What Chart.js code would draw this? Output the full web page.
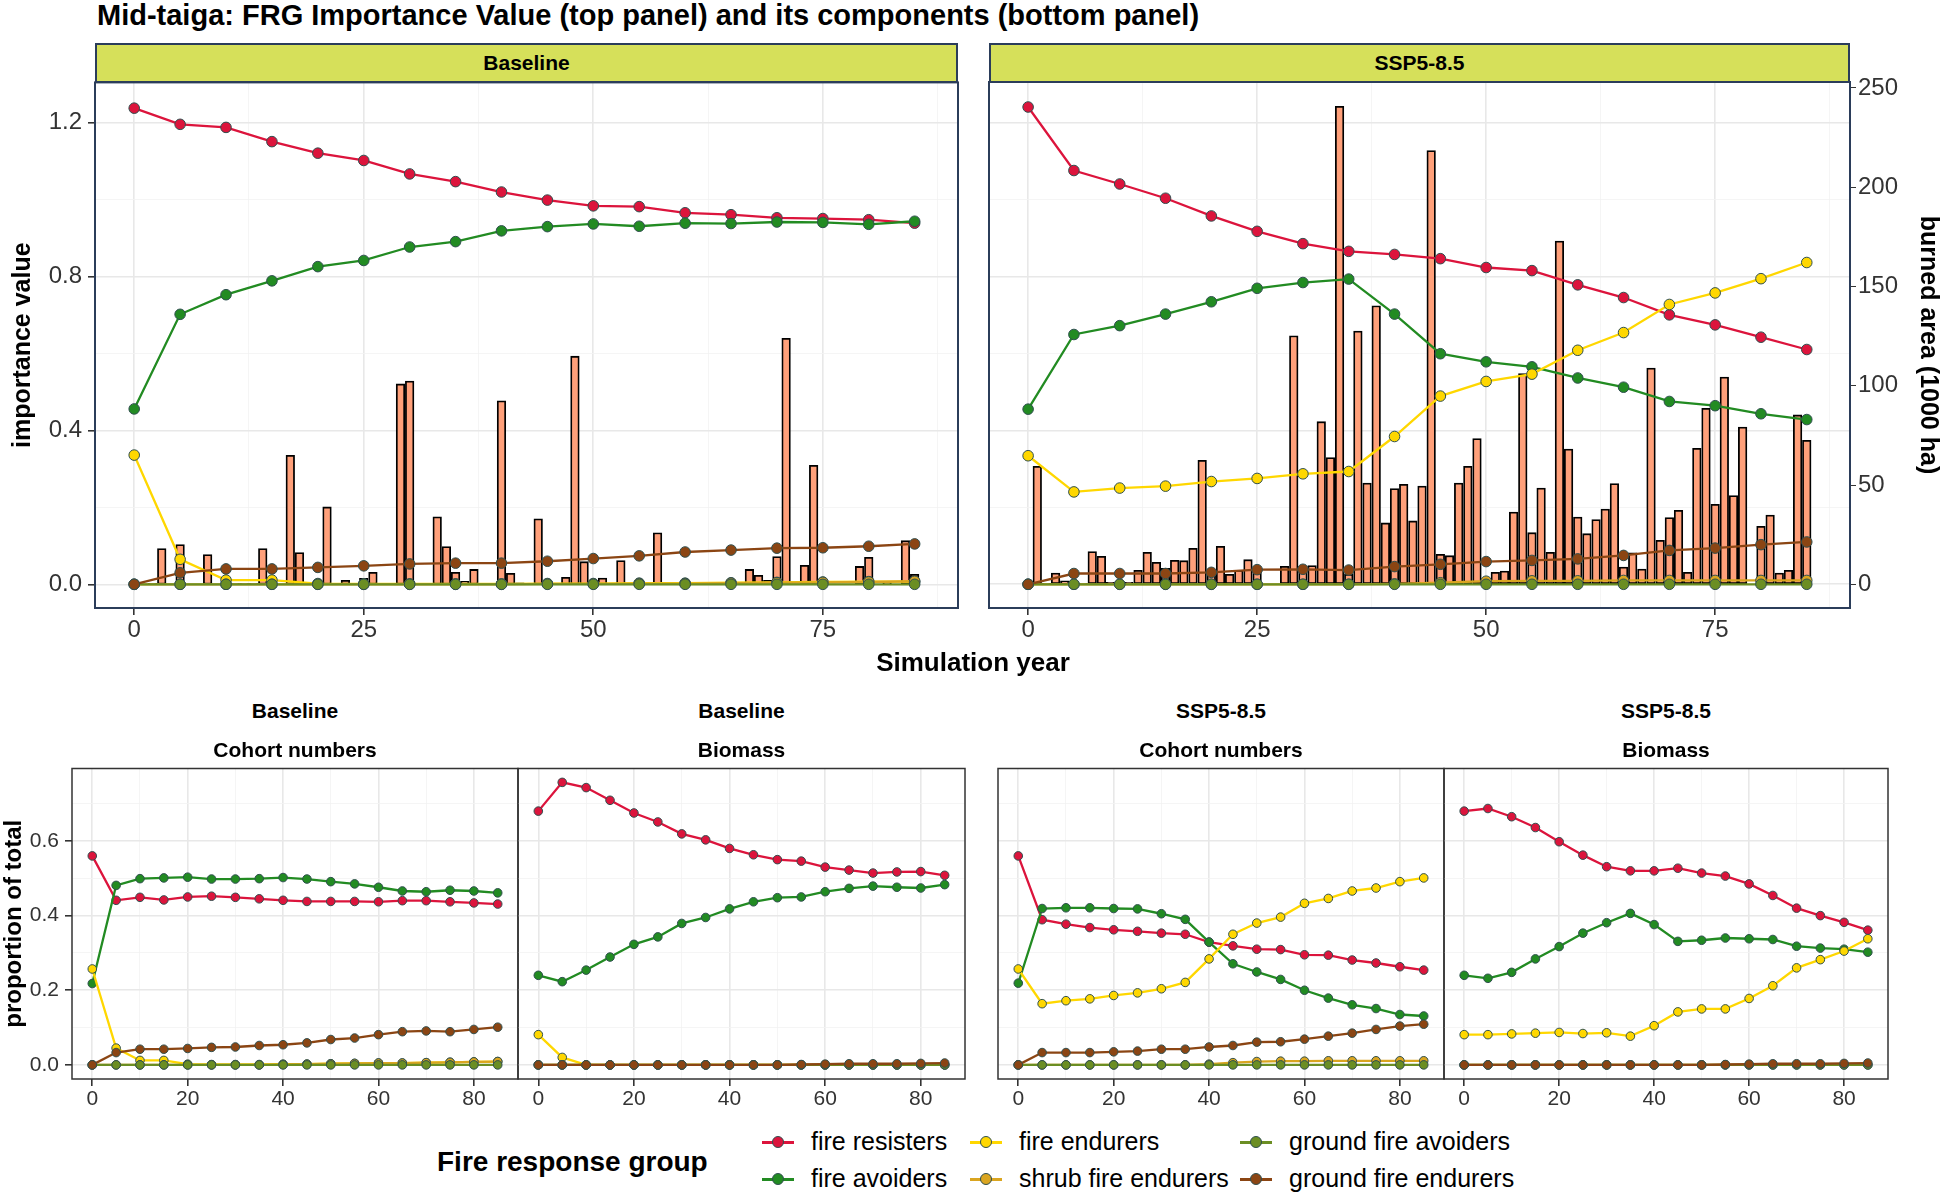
<!DOCTYPE html>
<html>
<head>
<meta charset="utf-8">
<script src="https://cdn.jsdelivr.net/npm/chart.js@4.4.1/dist/chart.umd.min.js"></script>
<style>
  body { margin: 0; background: #fff; font-family: "Liberation Sans", Arial, sans-serif; }
  #page { position: relative; width: 1944px; height: 1195px; overflow: hidden; }
  canvas { position: absolute; }
  .txt { position: absolute; white-space: nowrap; color: #000; }
  .strip { position: absolute; box-sizing: border-box; background: #d6e05a; border: 2px solid #2b3d5a;
           font-weight: bold; font-size: 21px; display: flex; align-items: center; justify-content: center; }
  .sub { position: absolute; text-align: center; font-weight: bold; font-size: 21px; line-height: 26px; }
  .key { position: absolute; width: 32px; height: 20px; }
  .key .ln { position: absolute; left: 0; right: 0; top: 8.5px; height: 3px; }
  .key .pt { position: absolute; left: 10px; top: 4px; width: 10px; height: 10px; border-radius: 50%; border: 1px solid #2f4f4f; }
  .lab { position: absolute; font-size: 25px; line-height: 28px; }
</style>
</head>
<body>
<div id="page">
  <canvas id="topBase" width="980" height="600" style="left:0;top:62px"></canvas>
  <canvas id="topSsp" width="984" height="600" style="left:960px;top:62px"></canvas>
  <canvas id="cohBase" width="538" height="370" style="left:0;top:748px"></canvas>
  <canvas id="bioBase" width="487" height="370" style="left:498px;top:748px"></canvas>
  <canvas id="cohSsp" width="486" height="370" style="left:978px;top:748px"></canvas>
  <canvas id="bioSsp" width="484" height="370" style="left:1424px;top:748px"></canvas>

  <div class="txt" style="left:97px;top:0;font-size:29px;font-weight:bold;line-height:30px">Mid-taiga: FRG Importance Value (top panel) and its components (bottom panel)</div>
  <div class="strip" style="left:95px;top:43px;width:863px;height:40px">Baseline</div>
  <div class="strip" style="left:989px;top:43px;width:861px;height:40px">SSP5-8.5</div>
  <div class="txt" style="left:773px;width:400px;text-align:center;top:647px;font-size:26px;font-weight:bold;line-height:30px">Simulation year</div>

  <div class="sub" style="left:72px;width:446px;top:698px">Baseline</div>
  <div class="sub" style="left:72px;width:446px;top:737px">Cohort numbers</div>
  <div class="sub" style="left:518px;width:447px;top:698px">Baseline</div>
  <div class="sub" style="left:518px;width:447px;top:737px">Biomass</div>
  <div class="sub" style="left:998px;width:446px;top:698px">SSP5-8.5</div>
  <div class="sub" style="left:998px;width:446px;top:737px">Cohort numbers</div>
  <div class="sub" style="left:1444px;width:444px;top:698px">SSP5-8.5</div>
  <div class="sub" style="left:1444px;width:444px;top:737px">Biomass</div>

  <div class="txt" style="left:437px;top:1145px;font-size:28px;font-weight:bold;line-height:34px">Fire response group</div>
  <div id="legend"></div>
</div>

<script>
// simulation years with FRG values (every 5 years)
const steps = [0, 5, 10, 15, 20, 25, 30, 35, 40, 45, 50, 55, 60, 65, 70, 75, 80, 85];
// years with annual burned area bars
const fireYears = [1, 2, 3, 4, 5, 6, 7, 8, 9, 10, 11, 12, 13, 14, 15, 16, 17, 18, 19, 20,
  21, 22, 23, 24, 25, 26, 27, 28, 29, 30, 31, 32, 33, 34, 35, 36, 37, 38, 39, 40,
  41, 42, 43, 44, 45, 46, 47, 48, 49, 50, 51, 52, 53, 54, 55, 56, 57, 58, 59, 60,
  61, 62, 63, 64, 65, 66, 67, 68, 69, 70, 71, 72, 73, 74, 75, 76, 77, 78, 79, 80,
  81, 82, 83, 84, 85];

const groups = ['fire resisters', 'fire avoiders', 'fire endurers',
  'shrub fire endurers', 'ground fire avoiders', 'ground fire endurers'];
const groupColors = ['#DC143C', '#228B22', '#FFD700', '#DAA520', '#6B8E23', '#8B4513'];

// burned area (1000 ha)
const burnedBaseline = [0, 0.5, 18, 0, 20, 0, 0, 15, 0, 0,
  0.5, 0.5, 0.5, 18, 3, 0, 65, 16, 0, 0,
  39, 0, 2, 0, 3, 6, 0.5, 0.5, 101, 102.5,
  0, 0, 34, 19, 6, 1.5, 7.5, 0, 0, 92.5,
  5.5, 0.8, 0, 33, 0, 0, 3.5, 115, 11.4, 0,
  3.2, 0, 12, 0, 0, 0, 26, 0, 0, 0,
  0, 0, 0, 0.8, 0, 0, 7.5, 4.5, 2, 14,
  124, 0, 9.6, 60, 0, 0, 0, 0, 9, 13.6,
  0, 1, 0, 22, 5];
const burnedSsp = [59.4, 0.5, 5.7, 1.7, 0.5, 0.5, 16.5, 14.1, 1, 1,
  1, 7, 16.1, 11.1, 8, 12.1, 11.9, 18.1, 62.4, 6,
  19.1, 5, 7, 12.4, 8, 0, 0, 9.1, 125.2, 8,
  9.4, 81.9, 63.8, 240.7, 5, 127.5, 51, 140.3, 30.9, 48.2,
  50.4, 31.9, 49.5, 218.5, 15.1, 14.4, 51, 59.4, 73.4, 1,
  6, 6.7, 36.4, 106.1, 26, 48.5, 16.1, 172.9, 68.1, 33.9,
  25.5, 32.6, 37.9, 50.7, 8.7, 15.8, 7.7, 108.9, 22.2, 33.6,
  37.3, 6, 68.5, 88.6, 40.3, 104.4, 44.7, 79.2, 0, 29.2,
  34.9, 5.7, 7, 85.3, 72.5];

// importance value, Baseline
const ivBaseResisters = [1.238, 1.196, 1.188, 1.151, 1.121, 1.102, 1.067, 1.047, 1.020, 0.999, 0.984, 0.982, 0.966, 0.961, 0.953, 0.951, 0.948, 0.939];
const ivBaseAvoiders = [0.456, 0.702, 0.753, 0.789, 0.826, 0.842, 0.877, 0.891, 0.919, 0.930, 0.937, 0.931, 0.939, 0.938, 0.942, 0.941, 0.936, 0.944];
const ivBaseEndurers = [0.336, 0.065, 0.011, 0.011, 0.002, 0.001, 0.001, 0.001, 0.001, 0.002, 0.002, 0.003, 0.003, 0.004, 0.005, 0.006, 0.007, 0.007];
const ivBaseShrub = [0, 0, 0, 0, 0, 0, 0, 0, 0, 0.001, 0.001, 0.002, 0.002, 0.003, 0.004, 0.005, 0.006, 0.008];
const ivBaseGroundAvoid = [0, 0, 0, 0, 0, 0, 0, 0, 0, 0, 0, 0, 0, 0, 0, 0, 0, 0];
const ivBaseGroundEndure = [0, 0.030, 0.040, 0.040, 0.044, 0.048, 0.053, 0.055, 0.055, 0.060, 0.067, 0.074, 0.084, 0.089, 0.094, 0.095, 0.099, 0.105];

// importance value, SSP5-8.5
const ivSspResisters = [1.240, 1.075, 1.040, 1.003, 0.957, 0.917, 0.885, 0.865, 0.857, 0.846, 0.823, 0.815, 0.778, 0.745, 0.700, 0.674, 0.642, 0.610];
const ivSspAvoiders = [0.455, 0.649, 0.672, 0.702, 0.734, 0.769, 0.784, 0.793, 0.702, 0.599, 0.578, 0.565, 0.536, 0.512, 0.475, 0.464, 0.443, 0.428];
const ivSspEndurers = [0.334, 0.240, 0.250, 0.255, 0.267, 0.275, 0.287, 0.293, 0.384, 0.489, 0.527, 0.546, 0.608, 0.654, 0.727, 0.757, 0.794, 0.836];
const ivSspShrub = [0, 0, 0, 0, 0, 0, 0, 0, 0.001, 0.004, 0.008, 0.009, 0.009, 0.010, 0.010, 0.010, 0.010, 0.010];
const ivSspGroundAvoid = [0, 0, 0, 0, 0, 0, 0, 0, 0, 0, 0, 0, 0, 0, 0, 0, 0, 0];
const ivSspGroundEndure = [0, 0.028, 0.028, 0.028, 0.031, 0.038, 0.039, 0.037, 0.046, 0.052, 0.059, 0.062, 0.066, 0.075, 0.088, 0.094, 0.103, 0.110];

// proportion of total, Baseline cohort numbers
const cohBaseResisters = [0.560, 0.441, 0.449, 0.442, 0.450, 0.452, 0.449, 0.445, 0.441, 0.438, 0.438, 0.438, 0.437, 0.440, 0.440, 0.437, 0.434, 0.431];
const cohBaseAvoiders = [0.218, 0.481, 0.499, 0.501, 0.503, 0.498, 0.498, 0.499, 0.502, 0.498, 0.491, 0.485, 0.476, 0.466, 0.464, 0.468, 0.466, 0.461];
const cohBaseEndurers = [0.257, 0.045, 0.012, 0.012, 0.002, 0.001, 0.001, 0.001, 0.002, 0.002, 0.003, 0.004, 0.005, 0.005, 0.006, 0.007, 0.008, 0.009];
const cohBaseShrub = [0, 0, 0, 0, 0, 0, 0, 0, 0.001, 0.002, 0.003, 0.004, 0.005, 0.005, 0.006, 0.007, 0.008, 0.009];
const cohBaseGroundAvoid = [0, 0, 0, 0, 0, 0, 0, 0, 0, 0, 0, 0, 0, 0, 0, 0, 0, 0];
const cohBaseGroundEndure = [0, 0.033, 0.042, 0.042, 0.044, 0.047, 0.048, 0.052, 0.054, 0.059, 0.068, 0.072, 0.081, 0.089, 0.091, 0.089, 0.095, 0.101];

// proportion of total, Baseline biomass
const bioBaseResisters = [0.680, 0.757, 0.743, 0.709, 0.675, 0.651, 0.619, 0.603, 0.580, 0.563, 0.550, 0.546, 0.530, 0.522, 0.514, 0.517, 0.518, 0.508];
const bioBaseAvoiders = [0.240, 0.223, 0.254, 0.289, 0.323, 0.343, 0.379, 0.395, 0.418, 0.437, 0.448, 0.450, 0.464, 0.473, 0.479, 0.476, 0.474, 0.483];
const bioBaseEndurers = [0.081, 0.020, 0, 0, 0, 0, 0, 0, 0, 0, 0, 0, 0, 0, 0, 0, 0, 0];
const bioBaseShrub = [0, 0, 0, 0, 0, 0, 0, 0, 0, 0, 0, 0, 0, 0, 0, 0, 0, 0];
const bioBaseGroundAvoid = [0, 0, 0, 0, 0, 0, 0, 0, 0, 0, 0, 0, 0, 0, 0, 0, 0, 0];
const bioBaseGroundEndure = [0, 0, 0, 0, 0, 0, 0, 0, 0, 0, 0, 0.001, 0.002, 0.003, 0.003, 0.003, 0.004, 0.005];

// proportion of total, SSP5-8.5 cohort numbers
const cohSspResisters = [0.560, 0.389, 0.377, 0.368, 0.362, 0.358, 0.353, 0.350, 0.329, 0.319, 0.310, 0.309, 0.295, 0.294, 0.281, 0.273, 0.263, 0.254];
const cohSspAvoiders = [0.219, 0.419, 0.421, 0.421, 0.419, 0.418, 0.405, 0.390, 0.329, 0.271, 0.249, 0.229, 0.200, 0.179, 0.161, 0.151, 0.135, 0.131];
const cohSspEndurers = [0.257, 0.164, 0.172, 0.177, 0.186, 0.193, 0.204, 0.221, 0.284, 0.350, 0.380, 0.396, 0.433, 0.446, 0.466, 0.474, 0.491, 0.501];
const cohSspShrub = [0, 0, 0, 0, 0, 0, 0, 0, 0.002, 0.006, 0.009, 0.010, 0.010, 0.011, 0.011, 0.011, 0.011, 0.011];
const cohSspGroundAvoid = [0, 0, 0, 0, 0, 0, 0, 0, 0, 0, 0, 0, 0, 0, 0, 0, 0, 0];
const cohSspGroundEndure = [0, 0.033, 0.033, 0.033, 0.035, 0.037, 0.042, 0.042, 0.048, 0.052, 0.061, 0.062, 0.069, 0.077, 0.085, 0.095, 0.104, 0.109];

// proportion of total, SSP5-8.5 biomass
const bioSspResisters = [0.680, 0.687, 0.665, 0.636, 0.598, 0.562, 0.531, 0.520, 0.520, 0.527, 0.514, 0.506, 0.485, 0.454, 0.420, 0.400, 0.382, 0.361];
const bioSspAvoiders = [0.240, 0.232, 0.248, 0.284, 0.317, 0.353, 0.381, 0.406, 0.376, 0.331, 0.334, 0.340, 0.338, 0.336, 0.318, 0.313, 0.310, 0.302];
const bioSspEndurers = [0.081, 0.081, 0.083, 0.085, 0.087, 0.084, 0.086, 0.077, 0.105, 0.142, 0.150, 0.150, 0.178, 0.212, 0.260, 0.282, 0.305, 0.338];
const bioSspShrub = [0, 0, 0, 0, 0, 0, 0, 0, 0, 0, 0, 0, 0, 0, 0, 0, 0, 0];
const bioSspGroundAvoid = [0, 0, 0, 0, 0, 0, 0, 0, 0, 0, 0, 0, 0, 0, 0, 0, 0, 0];
const bioSspGroundEndure = [0, 0, 0, 0, 0, 0, 0, 0, 0, 0, 0, 0.001, 0.002, 0.003, 0.003, 0.003, 0.004, 0.005];

// tick positions (minor + major)
const topXTicks = [0, 12.5, 25, 37.5, 50, 62.5, 75, 87.5];
const topYTicks = [0, 0.2, 0.4, 0.6, 0.8, 1.0, 1.2];
const burnedTicks = [0, 50, 100, 150, 200, 250];
const botXTicks = [0, 10, 20, 30, 40, 50, 60, 70, 80];
const botYTicks = [0, 0.1, 0.2, 0.3, 0.4, 0.5, 0.6, 0.7];

Chart.defaults.font.family = '"Liberation Sans", Arial, sans-serif';
Chart.defaults.animation = false;

const IV_MIN = -0.0616, IV_MAX = 1.305;
const BURN_PER_IV = 193.86;   // secondary axis scaling

const frame = {
    id: 'frame',
    afterDraw(chart, args, opts) {
        const {ctx, chartArea: a} = chart;
        ctx.save();
        ctx.strokeStyle = opts.color;
        ctx.lineWidth = opts.width;
        ctx.strokeRect(a.left, a.top, a.right - a.left, a.bottom - a.top);
        ctx.restore();
    }
};

const isMult = (v, step) => Math.abs(v / step - Math.round(v / step)) < 1e-6;
const major = (c, step) => c && c.tick ? isMult(c.tick.value, step) : true;

const gridFor = (step, tickLength) => ({
    offset: false,
    color: c => major(c, step) ? '#e8e8e8' : '#f2f2f2',
    lineWidth: c => major(c, step) ? 1.6 : 0.8,
    tickColor: c => major(c, step) ? '#333' : 'rgba(0,0,0,0)',
    tickLength: tickLength,
});

const lineSets = (series, radius) => series.map((vals, i) => ({
    type: 'line',
    label: groups[i],
    yAxisID: 'y',
    data: vals.map((v, k) => ({x: steps[k], y: v})),
    borderColor: groupColors[i],
    backgroundColor: groupColors[i],
    borderWidth: 2.3,
    pointRadius: radius,
    pointBackgroundColor: groupColors[i],
    pointBorderColor: '#2f4f4f',
    pointBorderWidth: 1,
    tension: 0,
    order: 6 - i,
}));

const xAxis = (min, max, ticks, step, height, fontSize) => ({
    type: 'linear', min, max, offset: false,
    afterBuildTicks: s => { s.ticks = ticks.map(v => ({value: v})); },
    afterFit: s => { s.height = height; },
    ticks: {
        autoSkip: false, maxRotation: 0, padding: 1, color: '#333',
        font: {size: fontSize},
        callback: v => isMult(v, step) ? String(v) : '',
    },
    grid: gridFor(step, 7),
    border: {display: false},
});

const makeTop = (id, series, burned, withLeft) => {
    const scales = {
        x: xAxis(-4.27, 89.72, topXTicks, 25, 34, 24),
        y: {
            type: 'linear', position: 'left', min: IV_MIN, max: IV_MAX,
            afterBuildTicks: s => { s.ticks = topYTicks.map(v => ({value: v})); },
            afterFit: s => { s.width = withLeft ? 95 : 0; },
            ticks: {
                display: withLeft, padding: 6, color: '#333', font: {size: 24},
                callback: v => isMult(v, 0.4) ? v.toFixed(1) : '',
            },
            grid: Object.assign(gridFor(0.4, 7), {drawTicks: withLeft}),
            border: {display: false},
            title: {
                display: withLeft, text: 'importance value', color: '#000',
                font: {size: 25, weight: 'bold'}, padding: {top: 8, bottom: 0},
            },
        },
        y2: {
            type: 'linear', position: 'right', display: !withLeft,
            min: IV_MIN * BURN_PER_IV, max: IV_MAX * BURN_PER_IV,
            afterBuildTicks: s => { s.ticks = burnedTicks.map(v => ({value: v})); },
            afterFit: s => { s.width = withLeft ? 0 : 94; },
            ticks: {padding: 2, color: '#333', font: {size: 24}},
            grid: {drawOnChartArea: false, tickColor: '#333', tickLength: 6},
            border: {display: false},
            title: {
                display: true, text: 'burned area (1000 ha)', color: '#000',
                font: {size: 25, weight: 'bold'}, padding: {top: 1, bottom: 0},
            },
        },
    };
    const bars = {
        type: 'bar',
        label: 'burned area',
        yAxisID: 'y2',
        data: burned.map((v, k) => ({x: fireYears[k], y: v})),
        backgroundColor: '#FFA07A',
        borderColor: '#000',
        borderWidth: 1.8,
        borderSkipped: false,
        barThickness: 8.6,
        order: 10,
    };
    return new Chart(document.getElementById(id), {
        type: 'line',
        data: {datasets: [bars].concat(lineSets(series, 5.3))},
        options: {
            responsive: false, devicePixelRatio: 1,
            layout: {padding: withLeft ? {top: 20, left: 0, right: 22, bottom: 20} : {top: 20, left: 29, right: 0, bottom: 20}},
            scales,
            plugins: {legend: {display: false}, tooltip: {enabled: false}, frame: {color: '#2b3d5a', width: 2}},
        },
        plugins: [frame],
    });
};

const makeBottom = (id, series, withLeft) => new Chart(document.getElementById(id), {
    type: 'line',
    data: {datasets: lineSets(series, 4.3)},
    options: {
        responsive: false, devicePixelRatio: 1,
        layout: {padding: {top: 20.5, left: withLeft ? 0 : 20, right: 20, bottom: 9}},
        scales: {
            x: xAxis(-4.25, 89.25, botXTicks, 20, 30, 21),
            y: {
                type: 'linear', min: -0.0378, max: 0.7942,
                afterBuildTicks: s => { s.ticks = botYTicks.map(v => ({value: v})); },
                afterFit: s => { s.width = withLeft ? 72 : 0; },
                ticks: {
                    display: withLeft, padding: 6, color: '#333', font: {size: 21},
                    callback: v => isMult(v, 0.2) ? v.toFixed(1) : '',
                },
                grid: Object.assign(gridFor(0.2, 7), {drawTicks: withLeft}),
                border: {display: false},
                title: {
                    display: withLeft, text: 'proportion of total', color: '#000',
                    font: {size: 24, weight: 'bold'}, padding: {top: 0, bottom: 0},
                },
            },
        },
        plugins: {legend: {display: false}, tooltip: {enabled: false}, frame: {color: '#333', width: 1.5}},
    },
    plugins: [frame],
});

makeTop('topBase', [ivBaseResisters, ivBaseAvoiders, ivBaseEndurers, ivBaseShrub, ivBaseGroundAvoid, ivBaseGroundEndure], burnedBaseline, true);
makeTop('topSsp', [ivSspResisters, ivSspAvoiders, ivSspEndurers, ivSspShrub, ivSspGroundAvoid, ivSspGroundEndure], burnedSsp, false);
makeBottom('cohBase', [cohBaseResisters, cohBaseAvoiders, cohBaseEndurers, cohBaseShrub, cohBaseGroundAvoid, cohBaseGroundEndure], true);
makeBottom('bioBase', [bioBaseResisters, bioBaseAvoiders, bioBaseEndurers, bioBaseShrub, bioBaseGroundAvoid, bioBaseGroundEndure], false);
makeBottom('cohSsp', [cohSspResisters, cohSspAvoiders, cohSspEndurers, cohSspShrub, cohSspGroundAvoid, cohSspGroundEndure], false);
makeBottom('bioSsp', [bioSspResisters, bioSspAvoiders, bioSspEndurers, bioSspShrub, bioSspGroundAvoid, bioSspGroundEndure], false);

// legend: three columns, two rows (column-wise order like ggplot)
const legendCols = [762, 970, 1240];
const legendRows = [1142, 1179];
const legendBox = document.getElementById('legend');
groups.forEach((g, i) => {
    const col = Math.floor(i / 2), row = i % 2;
    const x = legendCols[col], y = legendRows[row];
    const key = document.createElement('div');
    key.className = 'key';
    key.style.left = x + 'px';
    key.style.top = (y - 10) + 'px';
    key.innerHTML = '<div class="ln" style="background:' + groupColors[i] + '"></div>' +
        '<div class="pt" style="background:' + groupColors[i] + '"></div>';
    legendBox.appendChild(key);
    const lab = document.createElement('div');
    lab.className = 'lab';
    lab.style.left = (x + 49) + 'px';
    lab.style.top = (y - 15) + 'px';
    lab.textContent = g;
    legendBox.appendChild(lab);
});
</script>
</body>
</html>
